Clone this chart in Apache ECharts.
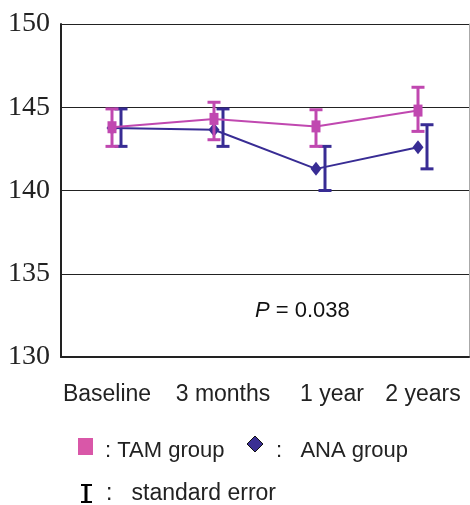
<!DOCTYPE html>
<html><head><meta charset="utf-8">
<script src="https://cdn.jsdelivr.net/npm/echarts@6/dist/echarts.min.js"></script>
<style>html,body{margin:0;padding:0;background:#fff}#c{width:470px;height:505px}</style>
</head><body><div id="c"></div>
<script>
const categories = ['Baseline', '3 months', '1 year', '2 years'];
const tamMean = [143.8, 144.3, 143.85, 144.8];
const tamLow  = [142.65, 143.05, 142.65, 143.55];
const tamHigh = [144.9, 145.3, 144.85, 146.2];
const anaMean = [143.75, 143.65, 141.3, 142.6];
const anaLow  = [142.65, 142.65, 140.0, 141.3];
const anaHigh = [144.9, 144.9, 142.65, 143.95];
const yMin = 130, yMax = 150, yStep = 5;
const pLabel = '0.038';

const TAM = '#c048b0', ANA = '#382c94';
const labelPad = [[0, 10, 0, 0], [0, 0, 0, 18], [0, 0, 0, 32], [0, 0, 0, 10]];

function errRender(color, dx) {
  return function (params, api) {
    const i = api.value(0);
    const lo = api.coord([i, api.value(1)]);
    const hi = api.coord([i, api.value(2)]);
    const x = lo[0] + dx, w = 6.5;
    const st = { stroke: color, lineWidth: 3 };
    return { type: 'group', children: [
      { type: 'line', shape: { x1: x, y1: lo[1], x2: x, y2: hi[1] }, style: st },
      { type: 'line', shape: { x1: x - w, y1: lo[1], x2: x + w, y2: lo[1] }, style: st },
      { type: 'line', shape: { x1: x - w, y1: hi[1], x2: x + w, y2: hi[1] }, style: st }
    ]};
  };
}

const rich = {};
categories.forEach((c, i) => {
  rich['c' + i] = { padding: labelPad[i], fontSize: 23, color: '#222', fontFamily: 'Liberation Sans, Arial, sans-serif' };
});

const chart = echarts.init(document.getElementById('c'), null, { renderer: 'canvas' });
chart.setOption({
  animation: false,
  backgroundColor: '#fff',
  grid: { left: 61, right: 1, top: 24, bottom: 148 },
  xAxis: {
    type: 'category', data: categories, boundaryGap: true,
    axisLine: { lineStyle: { color: '#222', width: 2 } },
    axisTick: { inside: true, length: 4, lineStyle: { color: '#444' } },
    axisLabel: {
      interval: 0, hideOverlap: false, color: '#222', fontFamily: 'Liberation Sans, Arial, sans-serif', fontSize: 23, margin: 26,
      formatter: (v, i) => '{c' + i + '|' + v + '}', rich: rich
    }
  },
  yAxis: [{
    type: 'value', min: yMin, max: yMax, interval: yStep,
    axisLine: { show: true, lineStyle: { color: '#222', width: 2 } },
    axisTick: { show: true, inside: true, length: 4, lineStyle: { color: '#222' } },
    splitLine: { show: true, lineStyle: { color: '#222', width: 1 } },
    axisLabel: { color: '#222', fontFamily: 'Liberation Serif, serif', fontSize: 28, margin: 11 }
  }, {
    type: 'value', min: yMin, max: yMax, interval: yStep, position: 'right',
    axisLine: { show: true, lineStyle: { color: '#aaa', width: 1 } },
    axisTick: { show: false }, axisLabel: { show: false }, splitLine: { show: false }
  }],
  series: [
    { type: 'line', data: anaMean, z: 2, symbol: 'diamond', symbolSize: [11, 14],
      lineStyle: { color: ANA, width: 2 }, itemStyle: { color: ANA } },
    { type: 'custom', z: 3, renderItem: errRender(ANA, 9),
      data: categories.map((c, i) => [i, anaLow[i], anaHigh[i]]) },
    { type: 'line', data: tamMean, z: 4, symbol: 'rect', symbolSize: [9, 12],
      lineStyle: { color: TAM, width: 2 }, itemStyle: { color: TAM } },
    { type: 'custom', z: 5, renderItem: errRender(TAM, 0),
      data: categories.map((c, i) => [i, tamLow[i], tamHigh[i]]) }
  ],
  graphic: [
    { type: 'text', left: 255, top: 300, style: {
        text: '{i|P} = ' + pLabel, fill: '#111', font: '22px Liberation Sans, Arial, sans-serif',
        rich: { i: { fontStyle: 'italic', fontSize: 22, fontFamily: 'Liberation Sans, Arial, sans-serif', fill: '#111' } } } },
    { type: 'rect', shape: { x: 78, y: 438, width: 15, height: 17 }, style: { fill: '#d957a8' } },
    { type: 'text', left: 105, top: 440, style: { text: ': TAM group', fill: '#222', font: '22px Liberation Sans, Arial, sans-serif' } },
    { type: 'polygon', shape: { points: [[255, 436], [263, 444], [255, 452], [247, 444]] }, style: { fill: '#3a2f94', stroke: '#111', lineWidth: 1 } },
    { type: 'text', left: 276, top: 440, style: { text: ':   ANA group', fill: '#222', font: '22px Liberation Sans, Arial, sans-serif' } },
    { type: 'group', children: [
      { type: 'line', shape: { x1: 86, y1: 485, x2: 86, y2: 502 }, style: { stroke: '#000', lineWidth: 3 } },
      { type: 'line', shape: { x1: 81, y1: 485, x2: 92, y2: 485 }, style: { stroke: '#000', lineWidth: 2 } },
      { type: 'line', shape: { x1: 81, y1: 502, x2: 92, y2: 502 }, style: { stroke: '#000', lineWidth: 2 } }
    ]},
    { type: 'text', left: 106, top: 482, style: { text: ':   standard error', fill: '#222', font: '23px Liberation Sans, Arial, sans-serif' } }
  ]
});
</script></body></html>
